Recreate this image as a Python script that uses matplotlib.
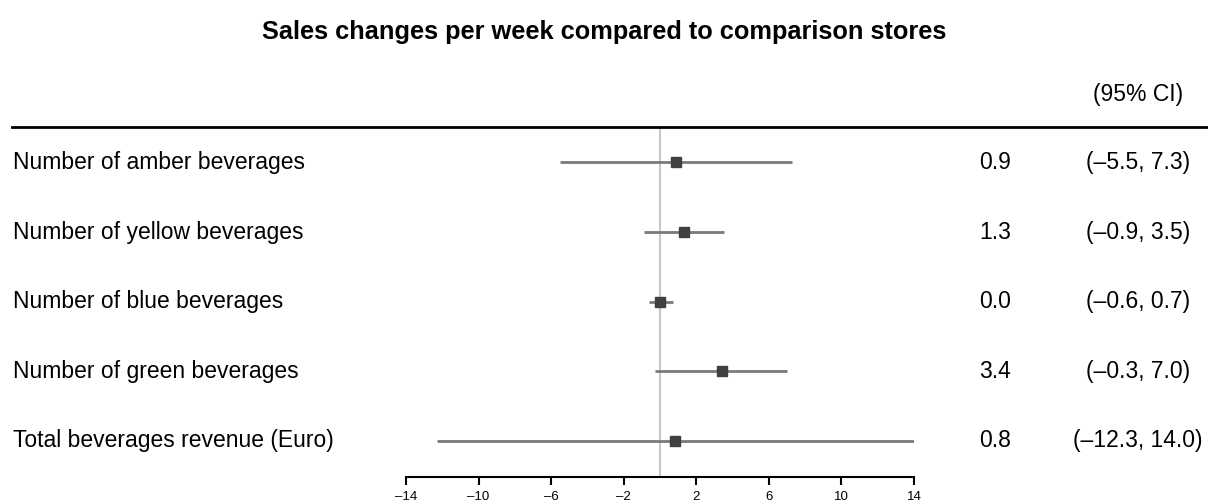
import matplotlib
matplotlib.use('Agg')
import matplotlib.pyplot as plt
from matplotlib.lines import Line2D
from matplotlib.ticker import FuncFormatter
from matplotlib.transforms import blended_transform_factory

plt.rcParams['font.family'] = ['Liberation Sans', 'DejaVu Sans']

# data
labels = ['Number of amber beverages', 'Number of yellow beverages',
          'Number of blue beverages', 'Number of green beverages',
          'Total beverages revenue (Euro)']
est = [0.9, 1.3, 0.0, 3.4, 0.8]
lo = [-5.5, -0.9, -0.6, -0.3, -12.3]
hi = [7.3, 3.5, 0.7, 7.0, 14.0]
xticks = [-14, -10, -6, -2, 2, 6, 10, 14]
title = 'Sales changes per week compared to comparison stores'

W, H = 1208, 503
fig = plt.figure(figsize=(W / 100, H / 100), dpi=100)

# axes box in pixels: x from 406 to 914, y from 127 (top) to 477 (bottom)
ax = fig.add_axes([406 / W, (H - 477) / H, 508 / W, 350 / H])
ax.set_xlim(-14, 14)
ax.set_ylim(4.52, -0.51)

ax.axvline(0, color='#c8c8c8', lw=1.5, zorder=1)
rows = list(range(len(labels)))
ax.hlines(rows, lo, hi, color='#7a7a7a', lw=2, zorder=2)
ax.plot(est, rows, 's', color='#404040', ms=6.5, zorder=3)

for s in ['top', 'left', 'right']:
    ax.spines[s].set_visible(False)
ax.spines['bottom'].set_linewidth(1.5)
ax.set_yticks([])
ax.set_xticks(xticks)
ax.xaxis.set_major_formatter(FuncFormatter(lambda v, p: ('%d' % v).replace('-', '\u2013')))
ax.tick_params(axis='x', length=6, width=1.5, labelsize=9.5, pad=4)

def dash(v):
    return ('%.1f' % v).replace('-', '\u2013')

tr = blended_transform_factory(fig.transFigure, ax.transData)
for i in rows:
    ax.text(13 / W, i, labels[i], transform=tr, ha='left', va='center', fontsize=16.5)
    ax.text(995 / W, i, dash(est[i]), transform=tr, ha='center', va='center', fontsize=16.5)
    ax.text(1138 / W, i, '(%s, %s)' % (dash(lo[i]), dash(hi[i])), transform=tr,
            ha='center', va='center', fontsize=16.5)

fig.text(1138 / W, 1 - 95 / H, '(95% CI)', ha='center', va='center', fontsize=16.5)
fig.text(604 / W, 1 - 32 / H, title, ha='center', va='center', fontsize=18.3, fontweight='bold')
fig.add_artist(Line2D([12 / W, 1.0], [1 - 127 / H, 1 - 127 / H], color='black', lw=2,
                      transform=fig.transFigure))

fig.savefig('out.png', dpi=100)
